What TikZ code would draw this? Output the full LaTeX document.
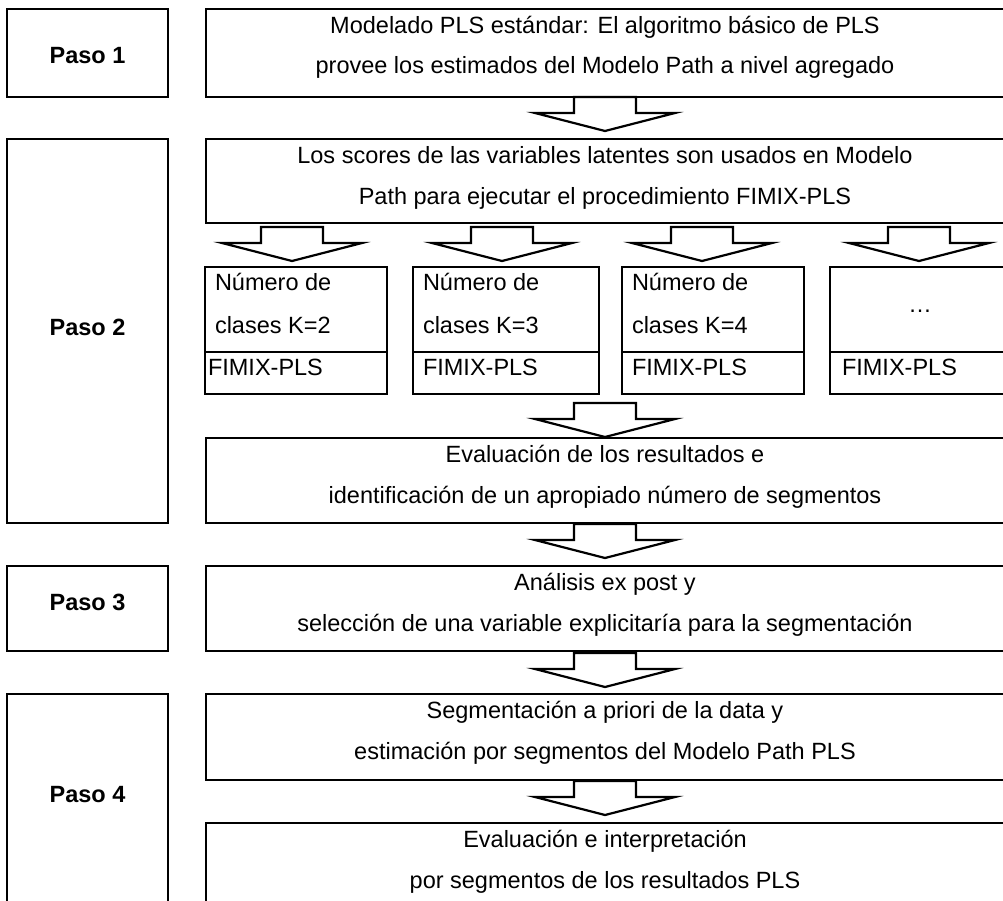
\documentclass[tikz,border=0pt]{standalone}
\usepackage{fontspec}
\setmainfont{Liberation Sans}
\usetikzlibrary{calc}
\begin{document}
\begin{tikzpicture}[x=1pt,y=-1pt,
  box/.style={draw, line width=2.4pt, rectangle, inner sep=0pt, outer sep=0pt, anchor=north west},
  txt/.style={inner sep=0pt, outer sep=0pt, anchor=base, font=\fontsize{23.5}{28}\selectfont},
  ltxt/.style={txt, anchor=base west},
  paso/.style={txt, font=\fontsize{23.5}{28}\selectfont\bfseries},
  divider/.style={line width=2.4pt},
  blk/.style={draw, line width=2.2pt, fill=white, line join=miter},
  pics/blockarrow/.style={code={
    \draw[blk] (-31,0) -- (-31,16) -- (-70,16) -- (0,34) -- (70,16) -- (31,16) -- (31,0) -- cycle;}}
]
\useasboundingbox (0,0) rectangle (1003,900);

% axis of the main column of steps
\coordinate (ax) at (605,0);

% step labels on the left
\node[box, minimum width=161, minimum height=88]  (p1) at (7,9) {};
\node[box, minimum width=161, minimum height=384] (p2) at (7,139) {};
\node[box, minimum width=161, minimum height=85]  (p3) at (7,566) {};
\node[box, minimum width=161, minimum height=260] (p4) at (7,694) {};

\node[paso] (p1t) at ($(p1.north)+(0,54)$)  {Paso 1};
\node[paso] (p2t) at ($(p2.north)+(0,196)$) {Paso 2};
\node[paso] (p3t) at ($(p3.north)+(0,44)$)  {Paso 3};
\node[paso] (p4t) at ($(p4.north)+(0,108)$) {Paso 4};

% main process boxes
\node[box, minimum width=810, minimum height=88]  (r1) at (206,9) {};
\node[box, minimum width=810, minimum height=84]  (r2) at (206,139) {};
\node[box, minimum width=810, minimum height=85]  (r3) at (206,438) {};
\node[box, minimum width=810, minimum height=85]  (r4) at (206,566) {};
\node[box, minimum width=810, minimum height=86]  (r5) at (206,694) {};
\node[box, minimum width=810, minimum height=130] (r6) at (206,823) {};

\node[txt] (r1a) at ($(ax |- r1.north)+(0,24)$) {Modelado PLS estándar: El algoritmo básico de PLS};
\node[txt] (r1b) at ($(ax |- r1.north)+(0,64)$) {provee los estimados del Modelo Path a nivel agregado};
\node[txt] (r2a) at ($(ax |- r2.north)+(0,24)$) {Los scores de las variables latentes son usados en Modelo};
\node[txt] (r2b) at ($(ax |- r2.north)+(0,65)$) {Path para ejecutar el procedimiento FIMIX-PLS};
\node[txt] (r3a) at ($(ax |- r3.north)+(0,24)$) {Evaluación de los resultados e};
\node[txt] (r3b) at ($(ax |- r3.north)+(0,65)$) {identificación de un apropiado número de segmentos};
\node[txt] (r4a) at ($(ax |- r4.north)+(0,24)$) {Análisis ex post y};
\node[txt] (r4b) at ($(ax |- r4.north)+(0,65)$) {selección de una variable explicitaría para la segmentación};
\node[txt] (r5a) at ($(ax |- r5.north)+(0,24)$) {Segmentación a priori de la data y};
\node[txt] (r5b) at ($(ax |- r5.north)+(0,65)$) {estimación por segmentos del Modelo Path PLS};
\node[txt] (r6a) at ($(ax |- r6.north)+(0,24)$) {Evaluación e interpretación};
\node[txt] (r6b) at ($(ax |- r6.north)+(0,65)$) {por segmentos de los resultados PLS};

% FIMIX-PLS runs for several numbers of classes
\node[box, minimum width=182, minimum height=127] (k1) at (205,267) {};
\node[box, minimum width=186, minimum height=127] (k2) at (413,267) {};
\node[box, minimum width=182, minimum height=127] (k3) at (622,267) {};
\node[box, minimum width=190, minimum height=127] (k4) at (830,267) {};

\foreach \k in {k1,k2,k3,k4}
  \draw[divider] ($(\k.north west)+(0,85)$) -- ($(\k.north east)+(0,85)$);

\node[ltxt] (k1a) at ($(k1.north west)+(10,23)$)  {Número de};
\node[ltxt] (k1b) at ($(k1.north west)+(10,66)$)  {clases K=2};
\node[ltxt] (k1c) at ($(k1.north west)+(3,108)$)  {FIMIX-PLS};
\node[ltxt] (k2a) at ($(k2.north west)+(10,23)$)  {Número de};
\node[ltxt] (k2b) at ($(k2.north west)+(10,66)$)  {clases K=3};
\node[ltxt] (k2c) at ($(k2.north west)+(10,108)$) {FIMIX-PLS};
\node[ltxt] (k3a) at ($(k3.north west)+(10,23)$)  {Número de};
\node[ltxt] (k3b) at ($(k3.north west)+(10,66)$)  {clases K=4};
\node[ltxt] (k3c) at ($(k3.north west)+(10,108)$) {FIMIX-PLS};
\node[txt]  (k4a) at ($(k4.north west)+(90,45)$)  {…};
\node[ltxt] (k4c) at ($(k4.north west)+(12,108)$) {FIMIX-PLS};

% block arrows between the stages
\pic at (ax |- r1.south) {blockarrow};
\pic at ($(k1.north)+(-4,-40)$) {blockarrow};
\pic at ($(k2.north)+(-4,-40)$) {blockarrow};
\pic at ($(k3.north)+(-11,-40)$) {blockarrow};
\pic at ($(k4.north)+(-6,-40)$) {blockarrow};
\pic at ($(ax |- r3.north)+(0,-35)$) {blockarrow};
\pic at ($(ax |- r3.south)+(0,1)$) {blockarrow};
\pic at ($(ax |- r4.south)+(0,2)$) {blockarrow};
\pic at ($(ax |- r5.south)+(0,1)$) {blockarrow};
\end{tikzpicture}
\end{document}
